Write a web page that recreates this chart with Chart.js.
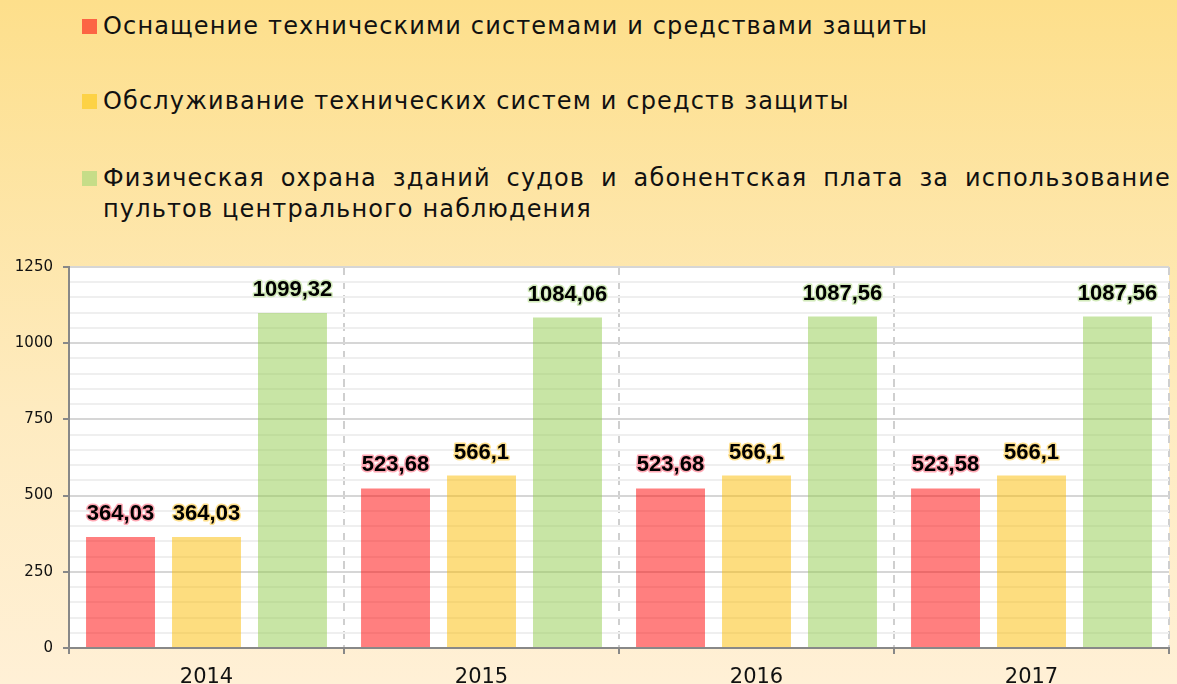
<!DOCTYPE html>
<html>
<head>
<meta charset="utf-8">
<script src="https://cdn.jsdelivr.net/npm/chart.js@4"></script>
<style>
    html, body { margin: 0; padding: 0; }
    body {
        width: 1177px; height: 684px; overflow: hidden; position: relative;
        background: linear-gradient(to bottom, #fddf8b 0%, #feebc0 60%, #fff0d6 100%);
        font-family: 'DejaVu Sans', Verdana, sans-serif; color: #111;
    }
    .legend-item { position: absolute; left: 82px; font-size: 24px; line-height: 31px; letter-spacing: 1.15px; }
    .legend-item .sw { position: absolute; left: 0; top: 8px; width: 15px; height: 15px; }
    .legend-item .txt { margin-left: 21px; }
    #leg3 .txt { width: 1068px; }
    #leg3 .first { text-align: justify; text-align-last: justify; white-space: nowrap; }
    #chart { position: absolute; left: 0; top: 240px; }
</style>
</head>
<body>
<div class="legend-item" style="top:11px"><span class="sw" style="background:#fc6444"></span><div class="txt">Оснащение техническими системами и средствами защиты</div></div>
<div class="legend-item" style="top:86px"><span class="sw" style="background:#fdd246"></span><div class="txt">Обслуживание технических систем и средств защиты</div></div>
<div class="legend-item" id="leg3" style="top:163px"><span class="sw" style="background:#c6dd88"></span><div class="txt"><div class="first">Физическая охрана зданий судов и абонентская плата за использование</div><div>пультов центрального наблюдения</div></div></div>

<canvas id="chart" width="1177" height="444"></canvas>

<script>
const years = ['2014', '2015', '2016', '2017'];
const equipment = [364.03, 523.68, 523.68, 523.58];
const service = [364.03, 566.1, 566.1, 566.1];
const guard = [1099.32, 1084.06, 1087.56, 1087.56];
const labelNames = [
    'Оснащение техническими системами и средствами защиты',
    'Обслуживание технических систем и средств защиты',
    'Физическая охрана зданий судов и абонентская плата за использование пультов центрального наблюдения'
];

const barColors = ['rgba(255, 0, 0, 0.5)', 'rgba(252, 187, 0, 0.5)', 'rgba(145, 203, 75, 0.5)'];
const haloColors = ['rgba(255, 110, 130, 0.6)', 'rgba(253, 210, 90, 0.7)', 'rgba(180, 220, 140, 0.6)'];

// white plot background
const plotBg = {
    id: 'plotBg',
    beforeDraw(chart) {
        const { ctx, chartArea: a } = chart;
        ctx.save();
        ctx.fillStyle = '#fff';
        ctx.fillRect(a.left, a.top, a.right - a.left, a.bottom - a.top);
        ctx.restore();
    }
};

// value labels above bars, black text with a thin coloured halo
const valueLabels = {
    id: 'valueLabels',
    afterDatasetsDraw(chart) {
        const ctx = chart.ctx;
        ctx.save();
        ctx.font = "bold 22px 'Liberation Sans', Arial, sans-serif";
        ctx.textAlign = 'center';
        ctx.textBaseline = 'middle';
        ctx.lineJoin = 'round';
        chart.data.datasets.forEach((ds, i) => {
            chart.getDatasetMeta(i).data.forEach((bar, j) => {
                const txt = String(ds.data[j]).replace('.', ',');
                const y = bar.y - 23;
                ctx.strokeStyle = haloColors[i];
                ctx.lineWidth = 3;
                ctx.strokeText(txt, bar.x, y);
                ctx.fillStyle = '#000';
                ctx.fillText(txt, bar.x, y);
            });
        });
        ctx.restore();
    }
};

new Chart(document.getElementById('chart').getContext('2d'), {
    type: 'bar',
    data: {
        labels: years,
        datasets: [
            { label: labelNames[0], data: equipment, backgroundColor: barColors[0] },
            { label: labelNames[1], data: service, backgroundColor: barColors[1] },
            { label: labelNames[2], data: guard, backgroundColor: barColors[2] }
        ]
    },
    options: {
        responsive: false,
        animation: false,
        devicePixelRatio: 1,
        layout: { padding: { top: 27, right: 8, left: 0, bottom: 0 } },
        datasets: { bar: { categoryPercentage: 0.938, barPercentage: 0.802 } },
        plugins: { legend: { display: false }, tooltip: { enabled: false } },
        scales: {
            x: {
                afterFit: s => { s.height = 36; },
                grid: {
                    offset: true,
                    color: '#cfcfcf',
                    lineWidth: 2,
                    tickColor: '#888',
                    tickLength: 6,
                    tickWidth: 2
                },
                border: { color: '#888', width: 2, dash: [8, 6] },
                ticks: { color: '#111', padding: 11, font: { family: "'DejaVu Sans', Verdana, sans-serif", size: 21 } }
            },
            y: {
                min: 0,
                max: 1250,
                afterFit: s => { s.width = 69; },
                grid: {
                    color: c => c.tick && c.tick.value % 250 === 0 ? '#d6d6d6' : '#efefef',
                    lineWidth: 2,
                    tickColor: c => c.tick && c.tick.value % 250 === 0 ? '#888' : 'rgba(0,0,0,0)',
                    tickLength: 6,
                    tickWidth: 2
                },
                border: { color: '#888', width: 2 },
                ticks: {
                    stepSize: 50,
                    autoSkip: false,
                    padding: 10,
                    color: '#111',
                    font: { family: "'DejaVu Sans', Verdana, sans-serif", size: 15 },
                    callback: v => (v % 250 === 0 ? v : '')
                }
            }
        }
    },
    plugins: [plotBg, valueLabels]
});
</script>
</body>
</html>
